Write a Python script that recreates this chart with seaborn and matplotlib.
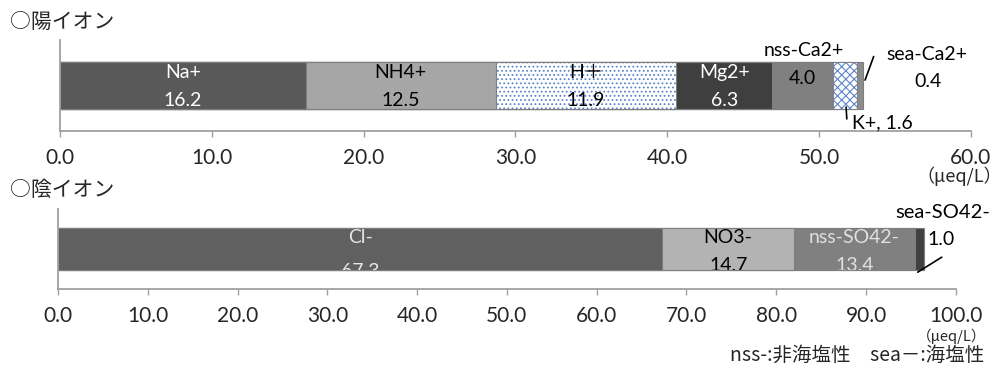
import matplotlib
matplotlib.use("Agg")
import matplotlib.pyplot as plt
import seaborn as sns
import numpy as np

# cation composition (μeq/L)
cation_names = ["Na+", "NH4+", "H＋", "Mg2+", "nss-Ca2+", "K+", "sea-Ca2+"]
cation_values = [16.2, 12.5, 11.9, 6.3, 4.0, 1.6, 0.4]
cation_colors = ["#595959", "#a6a6a6", "#ffffff", "#3f3f3f", "#808080", "#ffffff", "#8c8c8c"]
cation_hatches = [None, None, "....", None, None, "xxxx", None]
cation_ticks = [0, 10, 20, 30, 40, 50, 60]

# anion composition (μeq/L)
anion_names = ["Cl-", "NO3-", "nss-SO42-", "sea-SO42-"]
anion_values = [67.3, 14.7, 13.4, 1.0]
anion_colors = ["#606060", "#b3b3b3", "#808080", "#404040"]
anion_hatches = [None, None, None, None]
anion_ticks = [0, 10, 20, 30, 40, 50, 60, 70, 80, 90, 100]

sns.set_style("white")
plt.rcParams['font.family'] = ['Lato', 'Noto Sans CJK JP']
plt.rcParams['hatch.linewidth'] = 0.8

EDGE = "#7f7f7f"
HATCH = "#5b86c9"
AXIS = "#a0a0a0"
JP = ['Noto Sans CJK JP', 'DejaVu Sans']

fig = plt.figure(figsize=(10.01, 3.68), dpi=100)
ax1 = fig.add_axes([0.0599, 0.644, 0.910, 0.247])
ax2 = fig.add_axes([0.0579, 0.2147, 0.897, 0.2174])


def stacked(ax, values, colors, hatches, width):
    ends = np.cumsum(values)
    for i in reversed(range(len(values))):
        if hatches[i]:
            sns.barplot(x=[ends[i]], y=["ion"], orient="h", color=colors[i], saturation=1,
                        width=width, errorbar=None, ax=ax,
                        edgecolor=HATCH, linewidth=0, hatch=hatches[i])
            sns.barplot(x=[ends[i]], y=["ion"], orient="h", color=colors[i], saturation=1,
                        width=width, errorbar=None, ax=ax,
                        facecolor="none", edgecolor=EDGE, linewidth=0.8)
        else:
            sns.barplot(x=[ends[i]], y=["ion"], orient="h", color=colors[i], saturation=1,
                        width=width, errorbar=None, ax=ax,
                        edgecolor=EDGE, linewidth=0.8)
    ax.set_ylim(0.5, -0.5)
    ax.set_yticks([])
    ax.set_xlabel("")
    ax.set_ylabel("")
    for s in ["top", "right"]:
        ax.spines[s].set_visible(False)
    for s in ["left", "bottom"]:
        ax.spines[s].set_color(AXIS)
        ax.spines[s].set_linewidth(1.3)
    ax.tick_params(axis="x", direction="out", length=4.5, width=1, color=AXIS,
                   labelsize=15, pad=7.5, bottom=True)
    return ends


def inner_label(ax, x, name, val, color, clip, dy_name=9.5, dy_val=-10.8):
    for txt, dy in [(name, dy_name), (val, dy_val)]:
        if txt is None:
            continue
        t = ax.annotate(txt, xy=(x, 0), xytext=(0, dy), textcoords="offset points",
                        ha="center", va="center", fontsize=14, color=color)
        t.set_clip_path(clip)


# ---- cations
ends = stacked(ax1, cation_values, cation_colors, cation_hatches, 0.52)
ax1.set_xlim(0, 60)
ax1.set_xticks(cation_ticks)
ax1.set_xticklabels([f"{v:.1f}" for v in cation_ticks])
starts = ends - np.array(cation_values)
mids = (starts + ends) / 2
clip1 = ax1.patches[0]
txt_colors = ["white", "black", "black", "white"]
for i in range(4):
    inner_label(ax1, mids[i], cation_names[i], f"{cation_values[i]:.1f}", txt_colors[i], clip1)
# nss-Ca2+
ax1.annotate(cation_names[4], xy=(mids[4], 0), xytext=(1, 25.5), textcoords="offset points",
             ha="center", va="center", fontsize=14, color="black")
inner_label(ax1, mids[4], None, f"{cation_values[4]:.1f}", "black", clip1, dy_val=5.4)
# sea-Ca2+
ax1.annotate(cation_names[6], xy=(ends[6], 0), xytext=(46, 22.7), textcoords="offset points",
             ha="center", va="center", fontsize=14, color="black")
ax1.annotate(f"{cation_values[6]:.1f}", xy=(ends[6], 0), xytext=(47, 3.2), textcoords="offset points",
             ha="center", va="center", fontsize=14, color="black")
ax1.annotate("", xy=(ends[6] + 0.13, -0.06), xytext=(6.2, 17), textcoords="offset points",
             arrowprops=dict(arrowstyle="-", color="black", lw=1.2, shrinkA=0, shrinkB=0),
             annotation_clip=False)
# K+
ax1.annotate(f"{cation_names[5]}, {cation_values[5]:.1f}", xy=(mids[5], 0), xytext=(5, -27),
             textcoords="offset points", ha="left", va="center", fontsize=14, color="black")
ax1.annotate("", xy=(mids[5], 0), xytext=(1.4, -24), textcoords="offset points",
             arrowprops=dict(arrowstyle="-", color="black", lw=1.2, shrinkA=0, shrinkB=15.5))

# ---- anions
ends2 = stacked(ax2, anion_values, anion_colors, anion_hatches, 0.525)
ax2.set_xlim(0, 100)
ax2.set_xticks(anion_ticks)
ax2.set_xticklabels([f"{v:.1f}" for v in anion_ticks])
starts2 = ends2 - np.array(anion_values)
mids2 = (starts2 + ends2) / 2
clip2 = ax2.patches[0]
txt_colors2 = ["#e6e6e6", "black", "#e0e0e0"]
val_offsets2 = [-16.0, -12.0, -12.0]
for i in range(3):
    inner_label(ax2, mids2[i], anion_names[i], f"{anion_values[i]:.1f}", txt_colors2[i], clip2,
                dy_name=8.5, dy_val=val_offsets2[i])
ax2.annotate(anion_names[3], xy=(ends2[3], 0), xytext=(13.7, 26.6), textcoords="offset points",
             ha="center", va="center", fontsize=14.5, color="black")
ax2.annotate(f"{anion_values[3]:.1f}", xy=(ends2[3], 0), xytext=(13, 6.5), textcoords="offset points",
             ha="center", va="center", fontsize=14, color="black")
ax2.annotate("", xy=(ends2[3] - 0.65, 0.29), xytext=(17.3, 10.8), textcoords="offset points",
             arrowprops=dict(arrowstyle="-", color="black", lw=1.2, shrinkA=0, shrinkB=0),
             annotation_clip=False)

# titles and notes
fig.text(10 / 1001, 1 - 22 / 368, "○陽イオン", family=JP, fontsize=15, ha="left", va="center")
fig.text(10 / 1001, 1 - 190 / 368, "○陰イオン", family=JP, fontsize=15, ha="left", va="center")
fig.text(959 / 1001, 1 - 176 / 368, "（μeq/L）", family=JP, fontsize=13, ha="center", va="center")
fig.text(952 / 1001, 1 - 336 / 368, "（μeq/L）", family=JP, fontsize=10.5, ha="center", va="center")
fig.text(984 / 1001, 1 - 355.5 / 368, "nss-:非海塩性\u3000sea－:海塩性", family=JP, fontsize=14,
         ha="right", va="center")

fig.savefig("out.png", dpi=100)
